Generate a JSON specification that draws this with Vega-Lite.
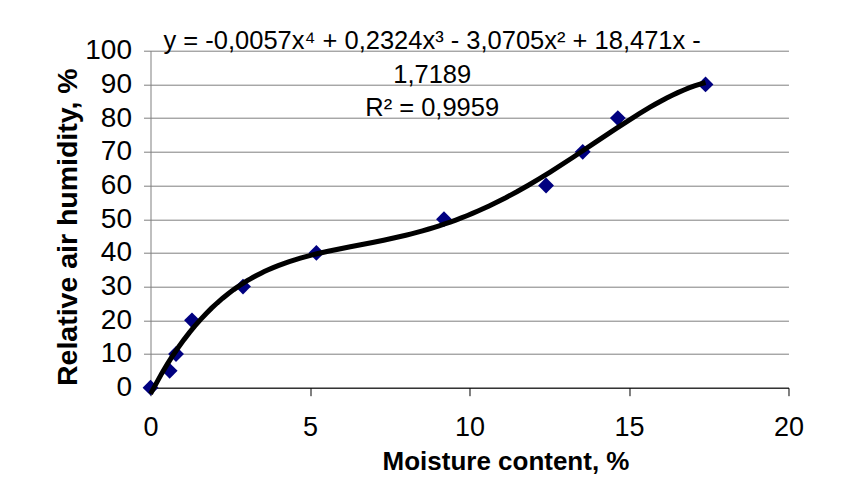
{
  "$schema": "https://vega.github.io/schema/vega-lite/v6.json",
  "width": 638,
  "height": 337,
  "autosize": {"type": "none"},
  "padding": {"left": 150.5, "top": 50.7, "right": 67, "bottom": 105},
  "background": "white",
  "config": {"view": {"stroke": null}, "font": "Liberation Sans"},
  "data": {"values": [
    {"mc": 0.0, "rh": 0},
    {"mc": 0.6, "rh": 5},
    {"mc": 0.8, "rh": 10},
    {"mc": 1.3, "rh": 20},
    {"mc": 2.9, "rh": 30},
    {"mc": 5.2, "rh": 40},
    {"mc": 9.2, "rh": 50},
    {"mc": 12.4, "rh": 60},
    {"mc": 13.55, "rh": 70},
    {"mc": 14.65, "rh": 80},
    {"mc": 17.4, "rh": 90}
  ]},
  "encoding": {
    "x": {"field": "mc", "type": "quantitative", "scale": {"domain": [0, 20], "nice": false},
      "axis": {"values": [0, 5, 10, 15, 20], "grid": false, "domainColor": "black", "tickColor": "black", "tickSize": 8,
        "labelFontSize": 27, "labelPadding": 19, "labelColor": "black", "labelFlush": false, "labelOverlap": false,
        "title": "Moisture content, %", "titleFontSize": 26, "titleFontWeight": "bold", "titleColor": "black",
        "titleX": 355, "titleY": 74, "titleBaseline": "middle", "titleAlign": "center"}},
    "y": {"field": "rh", "type": "quantitative", "scale": {"domain": [0, 100], "nice": false},
      "axis": {"values": [0, 10, 20, 30, 40, 50, 60, 70, 80, 90, 100], "tickCount": 11, "grid": true, "gridColor": "#808080", "gridOpacity": 1,
        "domainColor": "#808080", "tickColor": "#808080", "tickSize": 7,
        "labelFontSize": 28, "labelPadding": 12, "labelColor": "black", "labelFlush": false, "labelOverlap": false,
        "title": "Relative air humidity, %", "titleFontSize": 28.5, "titleFontWeight": "bold", "titleColor": "black",
        "titleX": -83, "titleY": 176, "titleBaseline": "middle", "titleAlign": "center", "titleAngle": 270}}
  },
  "layer": [
    {
      "mark": {"type": "point", "shape": "diamond", "filled": true, "color": "#000080", "opacity": 1, "size": 250}
    },
    {
      "transform": [{"regression": "rh", "on": "mc", "method": "poly", "order": 4}],
      "mark": {"type": "line", "color": "black", "strokeWidth": 5}
    },
    {
      "data": {"values": [
        {"mc": 8.83, "rh": 102.8, "label": "y = -0,0057x⁴ + 0,2324x³ - 3,0705x² + 18,471x -"},
        {"mc": 8.83, "rh": 92.7, "label": "1,7189"},
        {"mc": 8.83, "rh": 82.9, "label": "R² = 0,9959"}
      ]},
      "mark": {"type": "text", "fontSize": 25.5, "color": "black", "align": "center", "baseline": "middle"},
      "encoding": {
        "text": {"field": "label"}
      }
    }
  ]
}
